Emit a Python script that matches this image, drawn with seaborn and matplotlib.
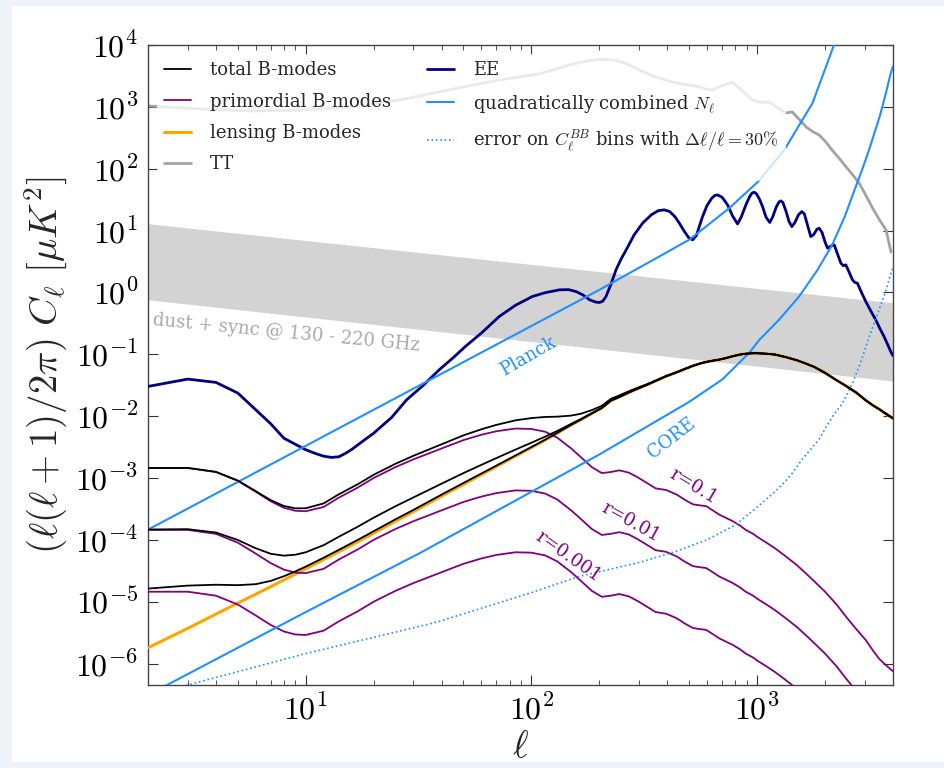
import numpy as np
import pandas as pd
import matplotlib
matplotlib.use("Agg")
import matplotlib.pyplot as plt
import seaborn as sns
from matplotlib.patches import Rectangle
from matplotlib.lines import Line2D
from matplotlib.ticker import FixedLocator, FuncFormatter, LogLocator, NullFormatter

# ---------------------------------------------------------------- data
# common multipole grid for the B-mode spectra
ell_bb = [2, 3, 4, 5, 6, 7, 8, 9, 10, 12, 14, 17, 20, 25, 30, 40, 50, 60, 70, 85,
          100, 115, 130, 150, 165, 185, 205, 225, 245, 270, 295, 325, 355, 395,
          440, 480, 520, 560, 595, 640, 680, 730, 780, 840, 890, 960, 1000, 1100,
          1200, 1340, 1500, 1640, 1800, 2000, 2250, 2470, 2750, 3030, 3250, 3470,
          3710, 4000]
# lensing B-modes  [muK^2]
bb_lensing = [1.8e-6, 3.7e-6, 6.3e-6, 9.5e-6, 1.32e-5, 1.75e-5, 2.25e-5, 2.8e-5,
              3.4e-5, 4.8e-5, 6.4e-5, 9.3e-5, 1.28e-4, 2.0e-4, 2.85e-4, 5.1e-4,
              7.9e-4, 1.13e-3, 1.53e-3, 2.25e-3, 3.1e-3, 4.1e-3, 5.3e-3, 7.2e-3,
              8.7e-3, 1.1e-2, 1.35e-2, 1.78e-2, 2.03e-2, 2.4e-2, 2.77e-2, 3.2e-2,
              3.7e-2, 4.4e-2, 5.1e-2, 5.8e-2, 6.5e-2, 7.1e-2, 7.5e-2, 7.9e-2,
              8.2e-2, 8.7e-2, 9.3e-2, 9.9e-2, 0.102, 0.104, 0.104, 0.102, 0.099,
              0.090, 0.080, 0.071, 0.062, 0.050, 0.038, 0.031, 0.024, 0.018,
              0.015, 0.013, 0.011, 0.0092]
# primordial (tensor) B-modes for r = 0.1  [muK^2]
bb_prim_r01 = [1.45e-3, 1.45e-3, 1.25e-3, 9.0e-4, 6.0e-4, 4.2e-4, 3.3e-4, 2.95e-4,
               2.9e-4, 3.4e-4, 4.8e-4, 7.0e-4, 1.0e-3, 1.5e-3, 2.0e-3, 3.0e-3,
               4.1e-3, 5.0e-3, 5.7e-3, 6.3e-3, 6.2e-3, 5.6e-3, 4.5e-3, 3.0e-3,
               2.2e-3, 1.5e-3, 1.2e-3, 1.25e-3, 1.33e-3, 1.22e-3, 1.03e-3, 8.3e-4,
               6.8e-4, 6.4e-4, 5.4e-4, 4.4e-4, 3.75e-4, 3.6e-4, 3.5e-4, 2.95e-4,
               2.55e-4, 2.25e-4, 2.0e-4, 1.7e-4, 1.45e-4, 1.25e-4, 1.12e-4, 9.0e-5,
               7.3e-5, 5.4e-5, 3.9e-5, 2.9e-5, 2.1e-5, 1.45e-5, 9.0e-6, 5.8e-6,
               3.6e-6, 2.4e-6, 1.65e-6, 1.2e-6, 9.5e-7, 7.5e-7]
r_values = [0.1, 0.01, 0.001]
r_labels = ["r=0.1", "r=0.01", "r=0.001"]

# E-mode spectrum
ell_ee = [2, 3, 4, 5, 6, 7, 8, 9, 10, 11, 12, 13, 14, 15, 16, 18, 20, 24, 28, 33,
          39, 45, 51, 60, 72, 85, 101, 115, 133, 146, 158, 170, 181, 192, 200,
          207, 214, 225, 237, 250, 263, 285, 311, 340, 365, 388, 410, 432, 452,
          475, 497, 518, 538, 556, 573, 600, 630, 650, 668, 700, 740, 780, 819,
          850, 892, 925, 950, 971, 995, 1025, 1057, 1095, 1138, 1175, 1215, 1250,
          1274, 1300, 1340, 1385, 1425, 1470, 1525, 1578, 1620, 1680, 1729, 1780,
          1840, 1884, 1940, 2000, 2051, 2120, 2195, 2270, 2350, 2410, 2472, 2560,
          2645, 2710, 2782, 2900, 3030, 3190, 3353, 3500, 3650, 3800, 3908, 4000]
cl_ee = [0.0302, 0.0397, 0.0351, 0.0236, 0.0127, 0.0075, 0.0044, 0.0035, 0.00286,
         0.0025, 0.00225, 0.00215, 0.0022, 0.0025, 0.0029, 0.0040, 0.0053, 0.0095,
         0.0184, 0.031, 0.056, 0.088, 0.134, 0.22, 0.408, 0.62, 0.86, 0.99, 1.10,
         1.11, 1.03, 0.90, 0.76, 0.70, 0.687, 0.72, 0.86, 1.35, 2.32, 3.5, 4.88,
         8.5, 13.2, 18.0, 21.0, 21.6, 20.3, 16.8, 13.2, 9.8, 7.7, 7.08, 8.3, 12.0,
         16.8, 25.5, 33.5, 37.0, 37.7, 34.5, 26.0, 17.0, 12.8, 16.5, 26.0, 35.0,
         40.5, 41.7, 39.0, 32.0, 24.4, 16.5, 13.5, 17.0, 24.0, 29.0, 30.2, 28.5,
         21.0, 14.0, 11.6, 13.5, 18.0, 20.3, 18.5, 11.5, 8.0, 8.6, 10.5, 10.9, 9.3,
         6.5, 5.2, 5.6, 5.9, 4.2, 2.97, 2.7, 2.79, 2.1, 1.60, 1.45, 1.41, 1.0,
         0.713, 0.5, 0.361, 0.26, 0.194, 0.14, 0.111, 0.095]

# temperature spectrum
ell_tt = [2, 3.4, 5.65, 9.4, 15.7, 26, 43, 72, 108, 147, 180, 206, 240, 270, 300,
          350, 421, 480, 540, 590, 632, 700, 775, 850, 950, 1040, 1130, 1240, 1343,
          1430, 1530, 1648, 1760, 1880, 2000, 2147, 2300, 2478, 2650, 2827, 3000,
          3228, 3480, 3723, 3920]
cl_tt = [1035, 925, 860, 880, 990, 1290, 1875, 2720, 3400, 4750, 5600, 5900, 5600,
         4800, 3950, 3100, 2520, 2300, 2150, 1950, 1875, 2200, 2520, 1900, 1290,
         1180, 1200, 950, 797, 828, 640, 473, 400, 352, 280, 201, 150, 107, 80, 59,
         40, 24, 15, 10.3, 4.5]

# quadratically combined noise, Planck
ell_planck = [2, 200, 368, 500, 614, 752, 877, 1020, 1153, 1320, 1520, 1758,
              1960, 2190, 2307]
nl_planck = [1.46e-4, 1.1, 3.8, 7.1, 12.8, 23, 38.5, 64, 111, 201, 475, 1140,
             3330, 1.0e4, 1.8e4]

# quadratically combined noise, CORE
ell_core = [2, 10, 32, 101, 200, 500, 700, 922, 1021, 1250, 1535, 1850, 2147,
            2440, 2735, 2930, 3133, 3500, 3700, 3908, 4000]
nl_core = [3.1e-7, 6.8e-6, 6.1e-5, 6.1e-4, 2.4e-3, 0.017, 0.039, 0.105, 0.17,
           0.36, 0.86, 2.3, 5.8, 16.5, 51, 100, 201, 718, 1530, 3490, 4500]

# error on binned C_l^BB (Delta l / l = 30%)
ell_err = [2, 3, 10, 32, 39, 100, 163, 300, 437, 600, 804, 1021, 1200, 1340,
           1432, 1600, 1880, 2013, 2200, 2388, 2645, 2900, 3133, 3467, 3700,
           3908, 4000]
err_bb = [2.9e-7, 4.5e-7, 1.45e-6, 4.0e-6, 4.8e-6, 1.4e-5, 2.57e-5, 4.3e-5,
          6.5e-5, 1.0e-4, 1.75e-4, 3.6e-4, 6.0e-4, 9.0e-4, 1.2e-3, 2.1e-3,
          4.2e-3, 6.5e-3, 1.1e-2, 1.6e-2, 3.4e-2, 8.0e-2, 0.19, 0.52, 1.0, 2.0,
          2.5]

# dust + synchrotron residual band
ell_fg = [2, 4000]
fg_low = [0.76, 0.037]
fg_high = [12.9, 0.68]

# ---------------------------------------------------------------- style
sns.set_style("white")
plt.rcParams["font.family"] = ["DejaVu Serif"]
plt.rcParams["mathtext.fontset"] = "cm"

W, H = 944, 768
fig = plt.figure(figsize=(W / 100, H / 100), dpi=100)
fig.patch.set_facecolor("#eef3f9")
fig.add_artist(Rectangle((12 / W, 6 / H), 1.0, 1 - 12 / H,
                         transform=fig.transFigure, facecolor="white",
                         edgecolor="none", zorder=-10))

ax = fig.add_axes([148 / W, 1 - 685 / H, (893 - 148) / W, (685 - 45) / H])
ax.set_xscale("log")
ax.set_yscale("log")
ax.set_xlim(2, 4000)
ax.set_ylim(4.5e-7, 1e4)

# foreground band
ax.fill_between(ell_fg, fg_low, fg_high, color="#d3d3d3", lw=0, zorder=1)

ell_bb_a = np.array(ell_bb)
lens_a = np.array(bb_lensing)
prim_a = np.array(bb_prim_r01)

c_total, c_prim, c_lens = "black", "purple", "orange"
c_tt, c_ee, c_noise = "#a3a3a3", "navy", "dodgerblue"

sns.lineplot(x=ell_tt, y=cl_tt, ax=ax, color=c_tt, lw=2.0, zorder=2)
sns.lineplot(x=ell_ee, y=cl_ee, ax=ax, color=c_ee, lw=2.0, zorder=3)
sns.lineplot(x=ell_bb, y=bb_lensing, ax=ax, color=c_lens, lw=2.2, zorder=3)
for r in r_values:
    prim = prim_a * (r / 0.1)
    sns.lineplot(x=ell_bb_a, y=prim, ax=ax, color=c_prim, lw=1.3, zorder=3)
    sns.lineplot(x=ell_bb_a, y=prim + lens_a, ax=ax, color=c_total, lw=1.3,
                 zorder=4)
sns.lineplot(x=ell_planck, y=nl_planck, ax=ax, color=c_noise, lw=1.5, zorder=3)
sns.lineplot(x=ell_core, y=nl_core, ax=ax, color=c_noise, lw=1.5, zorder=3)
ax.plot(ell_err, err_bb, color=c_noise, lw=1.2, ls=":", zorder=3)

# legend
handles = [
    Line2D([], [], color=c_total, lw=1.3),
    Line2D([], [], color=c_prim, lw=1.3),
    Line2D([], [], color=c_lens, lw=2.2),
    Line2D([], [], color=c_tt, lw=2.0),
    Line2D([], [], color=c_ee, lw=2.0),
    Line2D([], [], color=c_noise, lw=1.5),
    Line2D([], [], color=c_noise, lw=1.2, ls=":"),
]
labels = ["total B-modes", "primordial B-modes", "lensing B-modes", "TT", "EE",
          r"quadratically combined $N_\ell$",
          r"error on $C_\ell^{BB}$ bins with $\Delta\ell/\ell = 30\%$"]
leg = ax.legend(handles, labels, loc="upper left", ncol=2, fontsize=13,
                frameon=True, framealpha=0.78, edgecolor="none",
                facecolor="white", handlelength=1.5, handletextpad=1.05,
                columnspacing=2.0, labelspacing=0.74, borderaxespad=0.5,
                borderpad=0.4)
leg.set_zorder(6)

# annotations
ax.text(0.510, 0.514, "Planck", transform=ax.transAxes, color=c_noise,
        fontsize=13, rotation=30, ha="center", va="center", zorder=5)
ax.text(0.703, 0.386, "CORE", transform=ax.transAxes, color=c_noise,
        fontsize=13, rotation=38, ha="center", va="center", zorder=5)
for (fx, fy, rot), lab in zip([(0.732, 0.311, -31), (0.648, 0.255, -29),
                               (0.564, 0.200, -35)], r_labels):
    ax.text(fx, fy, lab, transform=ax.transAxes, color=c_prim, fontsize=13,
            rotation=rot, ha="center", va="center", zorder=5)
ax.text(0.185, 0.550, "dust + sync @ 130 - 220 GHz", transform=ax.transAxes,
        color="#a8a8a8", fontsize=13, rotation=-5.5, ha="center",
        va="center", zorder=5)

# axes, ticks, labels
ax.xaxis.set_major_locator(FixedLocator([10, 100, 1000]))
ax.yaxis.set_major_locator(FixedLocator(10.0 ** np.arange(-6, 5)))
ax.xaxis.set_minor_locator(LogLocator(base=10, subs=np.arange(2, 10)))
ax.yaxis.set_minor_locator(LogLocator(base=10, subs=np.arange(2, 10)))
fmt = FuncFormatter(lambda v, _: r"$10^{%d}$" % int(round(np.log10(v))))
ax.xaxis.set_major_formatter(fmt)
ax.yaxis.set_major_formatter(fmt)
ax.xaxis.set_minor_formatter(NullFormatter())
ax.yaxis.set_minor_formatter(NullFormatter())
ax.tick_params(which="both", direction="in", top=True, right=True,
               bottom=True, left=True, colors="#333333", labelcolor="black")
ax.tick_params(which="major", length=7, width=0.8, labelsize=23, pad=7)
ax.tick_params(which="minor", length=3.5, width=0.6)
for s in ax.spines.values():
    s.set_color("#444444")
    s.set_linewidth(1.0)

ax.set_xlabel(r"$\ell$", fontsize=27, labelpad=2)
ax.set_ylabel(r"$(\ell(\ell+1)/2\pi)\ C_\ell\ [\mu K^2]$", fontsize=28,
              labelpad=4)

fig.savefig("out.png", dpi=100, facecolor=fig.get_facecolor())
